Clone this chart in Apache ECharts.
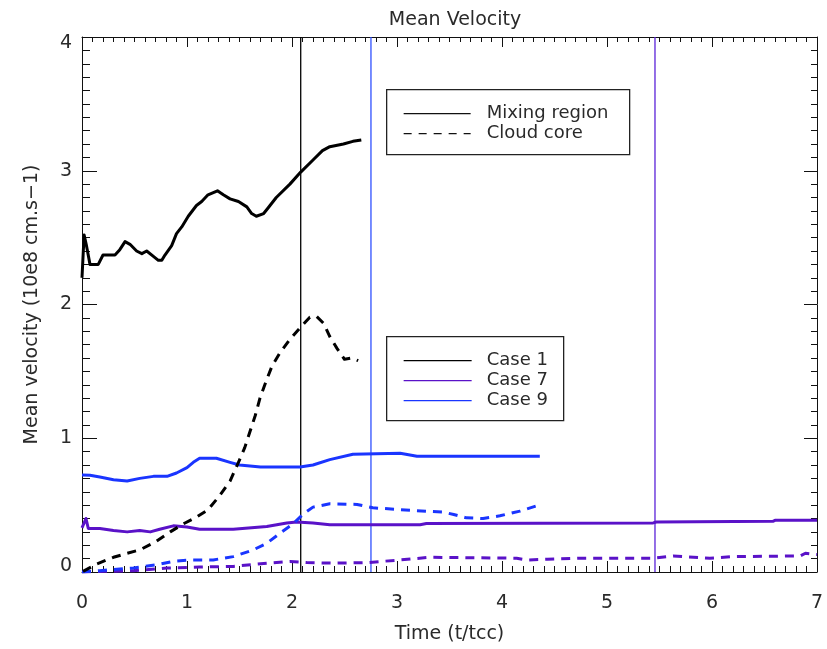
<!DOCTYPE html>
<html>
<head>
<meta charset="utf-8">
<title>Mean Velocity</title>
<script src="https://cdn.jsdelivr.net/npm/echarts@6/dist/echarts.min.js"></script>
<style>
  html, body { margin: 0; padding: 0; background: #ffffff; }
  #chart { width: 827px; height: 649px; }
</style>
</head>
<body>
<div id="chart"></div>
<script>
// Mean velocity (10e8 cm/s) against time (t/tcc), [time, velocity] pairs
const mixCase1 = [[0,2.2],[0.02,2.52],[0.04,2.45],[0.076,2.30],[0.155,2.30],[0.20,2.37],[0.314,2.37],[0.36,2.41],[0.41,2.47],[0.457,2.45],[0.52,2.40],[0.57,2.38],[0.616,2.40],[0.68,2.36],[0.727,2.33],[0.76,2.33],[0.79,2.37],[0.854,2.44],[0.90,2.53],[0.95,2.58],[1.012,2.66],[1.09,2.74],[1.14,2.77],[1.20,2.82],[1.29,2.85],[1.346,2.82],[1.41,2.79],[1.49,2.77],[1.57,2.73],[1.616,2.68],[1.66,2.66],[1.73,2.68],[1.77,2.72],[1.85,2.80],[1.98,2.90],[2.083,2.99],[2.20,3.08],[2.29,3.15],[2.36,3.18],[2.49,3.20],[2.58,3.22],[2.66,3.23]];
const cloudCase1 = [[0.01,0.005],[0.14,0.06],[0.30,0.11],[0.43,0.14],[0.55,0.165],[0.71,0.23],[0.84,0.30],[0.965,0.36],[1.09,0.41],[1.20,0.465],[1.31,0.57],[1.41,0.68],[1.49,0.82],[1.55,0.93],[1.60,1.05],[1.65,1.17],[1.695,1.30],[1.76,1.44],[1.81,1.54],[1.886,1.64],[1.98,1.74],[2.076,1.825],[2.17,1.905],[2.235,1.91],[2.30,1.86],[2.36,1.76],[2.43,1.67],[2.50,1.59],[2.57,1.60],[2.63,1.58]];
const mixCase9 = [[0,0.725],[0.076,0.723],[0.17,0.71],[0.30,0.69],[0.43,0.68],[0.55,0.70],[0.68,0.715],[0.81,0.715],[0.90,0.74],[1.0,0.78],[1.06,0.82],[1.12,0.85],[1.28,0.85],[1.41,0.82],[1.50,0.80],[1.70,0.785],[2.076,0.785],[2.20,0.80],[2.36,0.84],[2.58,0.88],[3.03,0.888],[3.19,0.866],[4.36,0.866]];
const cloudCase9 = [[0,0],[0.17,0.01],[0.49,0.03],[0.71,0.054],[0.87,0.08],[1.03,0.09],[1.25,0.09],[1.44,0.115],[1.63,0.165],[1.76,0.215],[1.886,0.29],[2.01,0.36],[2.11,0.435],[2.20,0.485],[2.36,0.51],[2.62,0.505],[2.77,0.48],[3.16,0.46],[3.44,0.448],[3.54,0.43],[3.66,0.405],[3.82,0.40],[3.98,0.42],[4.17,0.455],[4.35,0.50]];
const mixCase7 = [[0,0.33],[0.038,0.40],[0.06,0.325],[0.17,0.325],[0.30,0.31],[0.43,0.30],[0.55,0.31],[0.65,0.30],[0.74,0.32],[0.87,0.345],[1.0,0.337],[1.12,0.32],[1.44,0.32],[1.76,0.34],[1.95,0.367],[2.045,0.374],[2.20,0.367],[2.36,0.354],[3.22,0.354],[3.28,0.362],[5.44,0.367],[5.47,0.374],[6.58,0.379],[6.6,0.386],[7.0,0.386]];
const cloudCase7 = [[0,0],[0.49,0.01],[0.81,0.03],[1.12,0.037],[1.44,0.042],[1.76,0.066],[1.98,0.079],[2.14,0.071],[2.39,0.066],[2.71,0.07],[3.03,0.09],[3.31,0.11],[4.14,0.103],[4.24,0.09],[4.43,0.095],[4.74,0.103],[5.44,0.103],[5.63,0.12],[5.98,0.103],[6.20,0.115],[6.84,0.12],[6.89,0.14],[7.0,0.13]];

// Reference times marked with vertical lines for each case
const markCase1 = 2.083;
const markCase9 = 2.752;
const markCase7 = 5.457;

const caseNames = ['Case 1', 'Case 7', 'Case 9'];
const regionNames = ['Mixing region', 'Cloud core'];

const BLACK = '#000000';
const PURPLE = '#5a12c8';
const BLUE = '#1a35ff';
const FONT = 'DejaVu Sans';
const TEXT = '#2a2a2a';
const DASH = [9, 7];

const chart = echarts.init(document.getElementById('chart'), null, { renderer: 'canvas' });

function lineSeries(name, data, color, dashed) {
  return {
    name: name,
    type: 'line',
    data: data,
    showSymbol: false,
    symbol: 'none',
    smooth: false,
    silent: true,
    color: color,
    lineStyle: { color: color, width: 3, type: dashed ? DASH : 'solid', cap: 'butt', join: 'round' },
    animation: false
  };
}

// full-height vertical line at a given time
function vline(x, color) {
  return {
    type: 'line',
    data: [[x, 0], [x, 4]],
    showSymbol: false,
    symbol: 'none',
    silent: true,
    color: color,
    lineStyle: { color: color, width: 1.3 },
    animation: false
  };
}

const tickCommon = { show: true, inside: true, lineStyle: { color: '#111', width: 1 } };

const option = {
  backgroundColor: '#ffffff',
  animation: false,
  title: {
    text: 'Mean Velocity',
    left: 450, top: 6, textAlign: 'center',
    textStyle: { fontFamily: FONT, fontSize: 19, fontWeight: 'normal', color: TEXT }
  },
  grid: { left: 82, right: 10, top: 37, bottom: 70, containLabel: false },
  xAxis: [
    {
      type: 'value', min: 0, max: 7, interval: 1, position: 'bottom',
      name: 'Time (t/tcc)', nameLocation: 'middle', nameGap: 53,
      nameTextStyle: { fontFamily: FONT, fontSize: 19, color: TEXT },
      axisLine: { show: true, onZero: false, lineStyle: { color: '#111', width: 1 } },
      axisTick: Object.assign({ length: 11 }, tickCommon),
      minorTick: { show: true, splitNumber: 10, length: 6, lineStyle: { color: '#111', width: 1 } },
      splitLine: { show: false },
      axisLabel: { fontFamily: FONT, fontSize: 19, color: TEXT, margin: 22 }
    },
    {
      type: 'value', min: 0, max: 7, interval: 1, position: 'top',
      axisLine: { show: true, onZero: false, lineStyle: { color: '#111', width: 1 } },
      axisTick: Object.assign({ length: 10 }, tickCommon),
      minorTick: { show: true, splitNumber: 10, length: 5, lineStyle: { color: '#111', width: 1 } },
      splitLine: { show: false },
      axisLabel: { show: false }
    }
  ],
  yAxis: [
    {
      type: 'value', min: 0, max: 4, interval: 1, position: 'left',
      name: 'Mean velocity (10e8 cm.s\u22121)', nameLocation: 'middle', nameGap: 40, nameRotate: 90,
      nameTextStyle: { fontFamily: FONT, fontSize: 19, color: TEXT },
      axisLine: { show: true, onZero: false, lineStyle: { color: '#111', width: 1 } },
      axisTick: Object.assign({ length: 15 }, tickCommon),
      minorTick: { show: true, splitNumber: 10, length: 8, lineStyle: { color: '#111', width: 1 } },
      splitLine: { show: false },
      axisLabel: {
        fontFamily: FONT, fontSize: 19, color: TEXT, margin: 10, lineHeight: 12,
        verticalAlignMinLabel: 'bottom', verticalAlignMaxLabel: 'top'
      }
    },
    {
      type: 'value', min: 0, max: 4, interval: 1, position: 'right',
      axisLine: { show: true, onZero: false, lineStyle: { color: '#111', width: 1 } },
      axisTick: Object.assign({ length: 13 }, tickCommon),
      minorTick: { show: true, splitNumber: 10, length: 6, lineStyle: { color: '#111', width: 1 } },
      splitLine: { show: false },
      axisLabel: { show: false }
    }
  ],
  series: [
    vline(markCase1, BLACK),
    vline(markCase9, '#2f50ff'),
    vline(markCase7, '#5a22d8'),
    lineSeries('Case 7 ' + regionNames[1], cloudCase7, PURPLE, true),
    lineSeries('Case 7 ' + regionNames[0], mixCase7, PURPLE, false),
    lineSeries('Case 9 ' + regionNames[1], cloudCase9, BLUE, true),
    lineSeries('Case 9 ' + regionNames[0], mixCase9, BLUE, false),
    lineSeries('Case 1 ' + regionNames[1], cloudCase1, BLACK, true),
    lineSeries('Case 1 ' + regionNames[0], mixCase1, BLACK, false)
  ],
  graphic: [
    // line-style key
    {
      type: 'group', left: 386, top: 89,
      children: [
        { type: 'rect', shape: { x: 0, y: 0, width: 243, height: 65 },
          style: { fill: '#ffffff', stroke: '#222', lineWidth: 1.3 } },
        { type: 'line', shape: { x1: 17, y1: 24, x2: 84, y2: 24 }, style: { stroke: '#111', lineWidth: 1.3 } },
        { type: 'line', shape: { x1: 17, y1: 44, x2: 84, y2: 44 }, style: { stroke: '#111', lineWidth: 1.3, lineDash: [8, 7] } },
        { type: 'text', x: 100, y: 24, style: { text: regionNames[0], font: '18px "DejaVu Sans"', fill: TEXT, textVerticalAlign: 'middle' } },
        { type: 'text', x: 100, y: 44, style: { text: regionNames[1], font: '18px "DejaVu Sans"', fill: TEXT, textVerticalAlign: 'middle' } }
      ]
    },
    // case colour key
    {
      type: 'group', left: 386, top: 336,
      children: [
        { type: 'rect', shape: { x: 0, y: 0, width: 177, height: 84 },
          style: { fill: '#ffffff', stroke: '#222', lineWidth: 1.3 } },
        { type: 'line', shape: { x1: 17, y1: 24, x2: 85, y2: 24 }, style: { stroke: BLACK, lineWidth: 1.3 } },
        { type: 'line', shape: { x1: 17, y1: 44, x2: 85, y2: 44 }, style: { stroke: PURPLE, lineWidth: 1.3 } },
        { type: 'line', shape: { x1: 17, y1: 64, x2: 85, y2: 64 }, style: { stroke: BLUE, lineWidth: 1.3 } },
        { type: 'text', x: 100, y: 24, style: { text: caseNames[0], font: '18px "DejaVu Sans"', fill: TEXT, textVerticalAlign: 'middle' } },
        { type: 'text', x: 100, y: 44, style: { text: caseNames[1], font: '18px "DejaVu Sans"', fill: TEXT, textVerticalAlign: 'middle' } },
        { type: 'text', x: 100, y: 64, style: { text: caseNames[2], font: '18px "DejaVu Sans"', fill: TEXT, textVerticalAlign: 'middle' } }
      ]
    }
  ]
};

chart.setOption(option);
</script>
</body>
</html>
